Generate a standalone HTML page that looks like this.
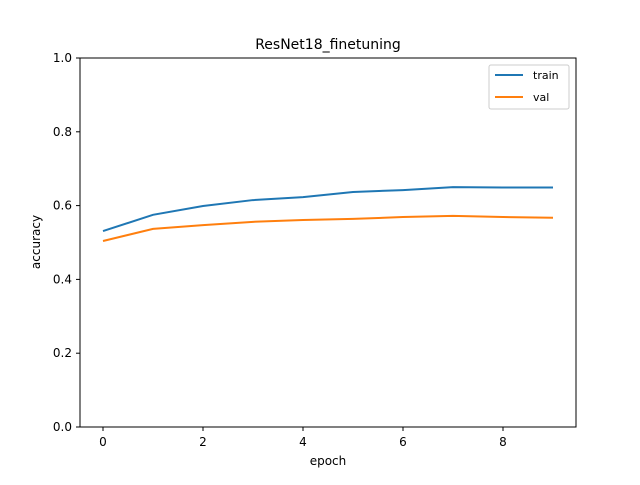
<!DOCTYPE html>
<html><head><meta charset="utf-8"><style>
body{margin:0;background:#fff}
svg{font-family:"DejaVu Sans","Liberation Sans",sans-serif}
</style></head><body>
<svg id="chart" width="640" height="480" xmlns="http://www.w3.org/2000/svg">
<rect width="640" height="480" fill="#fff"/>
<text x="328" y="49" font-size="14" text-anchor="middle">ResNet18_finetuning</text>
<g id="plot"></g>
<rect x="80" y="58" width="496" height="369" fill="none" stroke="#000" stroke-width="1"/>
<text x="328" y="465" font-size="12" text-anchor="middle">epoch</text>
<text transform="translate(40,242) rotate(-90)" font-size="12" text-anchor="middle">accuracy</text>
<g>
<rect x="489" y="65" width="80" height="44" fill="#fff" stroke="#ccc" rx="2"/>
<line x1="495" y1="75" x2="523" y2="75" stroke="#1f77b4" stroke-width="2"/>
<text x="533" y="79" font-size="11">train</text>
<line x1="495" y1="97" x2="523" y2="97" stroke="#ff7f0e" stroke-width="2"/>
<text x="533" y="101" font-size="11">val</text>
</g>
</svg>
<script>
const epochs=[0,1,2,3,4,5,6,7,8,9];
const trainAcc=[0.531,0.575,0.599,0.615,0.623,0.637,0.642,0.650,0.649,0.649];
const valAcc=[0.504,0.537,0.547,0.556,0.561,0.564,0.569,0.572,0.569,0.567];
const xTicks=[0,2,4,6,8];
const yTicks=[0.0,0.2,0.4,0.6,0.8,1.0];
const NS="http://www.w3.org/2000/svg";
const xs=v=>103+v*50;
const ys=v=>427-v*369;
const g=document.getElementById('plot');
function mk(t,a){const e=document.createElementNS(NS,t);for(const k in a)e.setAttribute(k,a[k]);return e;}
xTicks.forEach(t=>{
 const l=mk('line',{x1:xs(t),x2:xs(t),y1:427,y2:431,stroke:'#000'});
 
 
 g.appendChild(l);
 const tx=mk('text',{x:xs(t),y:446,'font-size':12,'text-anchor':'middle'});
 tx.textContent=t;
 
 
 g.appendChild(tx);
});
yTicks.forEach(t=>{
 const l=mk('line',{x1:76,x2:80,y1:ys(t),y2:ys(t),stroke:'#000'});
 
 
 g.appendChild(l);
 const tx=mk('text',{x:72,y:ys(t)+4,'font-size':12,'text-anchor':'end'});
 tx.textContent=t.toFixed(1);
 
 
 g.appendChild(tx);
});
function line(data,color,name){
 const p=mk('polyline',{points:epochs.map((e,i)=>xs(e)+','+ys(data[i])).join(' '),fill:'none',stroke:color,'stroke-width':2});
 
 
 g.appendChild(p);
}
line(trainAcc,'#1f77b4','train-line');
line(valAcc,'#ff7f0e','val-line');
</script>
</body></html>
